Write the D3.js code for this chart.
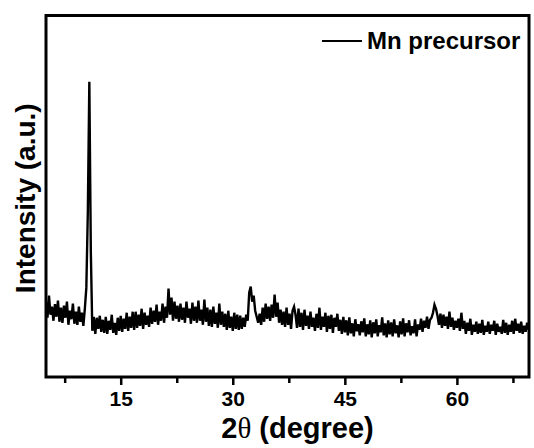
<!DOCTYPE html>
<html>
<head>
<meta charset="utf-8">
<script src="https://cdn.jsdelivr.net/npm/d3@7"></script>
<style>
  html, body { margin: 0; padding: 0; background: #fff; }
  svg { display: block; }
  text { font-family: Arial, "Liberation Sans", sans-serif; font-weight: bold; fill: #000; }
</style>
</head>
<body>
<svg id="chart" width="534" height="448"></svg>
<script>
// ---- data ----
const seriesName = "Mn precursor";
const twoTheta = [
  5.0,5.2,5.4,5.6,5.8,6.0,6.2,6.4,6.6,6.8,
  7.0,7.2,7.4,7.6,7.8,8.0,8.2,8.4,8.6,8.8,
  9.0,9.2,9.4,9.6,9.8,10.0,10.2,10.4,10.6,10.8,
  11.0,11.2,11.4,11.6,11.8,12.0,12.2,12.4,12.6,12.8,
  13.0,13.2,13.4,13.6,13.8,14.0,14.2,14.4,14.6,14.8,
  15.0,15.2,15.4,15.6,15.8,16.0,16.2,16.4,16.6,16.8,
  17.0,17.2,17.4,17.6,17.8,18.0,18.2,18.4,18.6,18.8,
  19.0,19.2,19.4,19.6,19.8,20.0,20.2,20.4,20.6,20.8,
  21.0,21.2,21.4,21.6,21.8,22.0,22.2,22.4,22.6,22.8,
  23.0,23.2,23.4,23.6,23.8,24.0,24.2,24.4,24.6,24.8,
  25.0,25.2,25.4,25.6,25.8,26.0,26.2,26.4,26.6,26.8,
  27.0,27.2,27.4,27.6,27.8,28.0,28.2,28.4,28.6,28.8,
  29.0,29.2,29.4,29.6,29.8,30.0,30.2,30.4,30.6,30.8,
  31.0,31.2,31.4,31.6,31.8,32.0,32.2,32.4,32.6,32.8,
  33.0,33.2,33.4,33.6,33.8,34.0,34.2,34.4,34.6,34.8,
  35.0,35.2,35.4,35.6,35.8,36.0,36.2,36.4,36.6,36.8,
  37.0,37.2,37.4,37.6,37.8,38.0,38.2,38.4,38.6,38.8,
  39.0,39.2,39.4,39.6,39.8,40.0,40.2,40.4,40.6,40.8,
  41.0,41.2,41.4,41.6,41.8,42.0,42.2,42.4,42.6,42.8,
  43.0,43.2,43.4,43.6,43.8,44.0,44.2,44.4,44.6,44.8,
  45.0,45.2,45.4,45.6,45.8,46.0,46.2,46.4,46.6,46.8,
  47.0,47.2,47.4,47.6,47.8,48.0,48.2,48.4,48.6,48.8,
  49.0,49.2,49.4,49.6,49.8,50.0,50.2,50.4,50.6,50.8,
  51.0,51.2,51.4,51.6,51.8,52.0,52.2,52.4,52.6,52.8,
  53.0,53.2,53.4,53.6,53.8,54.0,54.2,54.4,54.6,54.8,
  55.0,55.2,55.4,55.6,55.8,56.0,56.2,56.4,56.6,56.8,
  57.0,57.2,57.4,57.6,57.8,58.0,58.2,58.4,58.6,58.8,
  59.0,59.2,59.4,59.6,59.8,60.0,60.2,60.4,60.6,60.8,
  61.0,61.2,61.4,61.6,61.8,62.0,62.2,62.4,62.6,62.8,
  63.0,63.2,63.4,63.6,63.8,64.0,64.2,64.4,64.6,64.8,
  65.0,65.2,65.4,65.6,65.8,66.0,66.2,66.4,66.6,66.8,
  67.0,67.2,67.4,67.6,67.8,68.0,68.2,68.4,68.6,68.8,
  69.0,69.2,69.4,69.6
];
const intensity = [
  150,118,162,124,140,112,145,120,152,110,
  138,108,142,118,150,104,132,115,146,106,
  130,104,140,110,128,102,136,178,330,588,
  250,92,120,86,118,96,122,90,114,88,
  120,86,112,94,124,88,108,84,118,92,
  122,90,116,96,128,92,120,98,130,94,
  130,98,124,102,136,96,128,104,122,100,
  138,106,132,110,144,104,130,112,146,108,
  140,118,176,124,158,112,150,116,142,110,
  146,114,138,108,150,118,136,106,148,112,
  140,108,152,112,134,104,154,110,138,102,
  134,100,140,106,128,98,146,104,130,100,
  126,94,132,98,120,92,128,96,124,94,
  122,96,118,100,124,112,168,180,150,162,
  132,120,108,126,104,138,110,146,116,140,
  112,144,118,164,120,148,108,134,104,130,
  100,138,104,126,96,132,140,124,98,136,
  100,128,94,134,102,122,96,130,100,118,
  92,126,98,138,94,120,100,128,90,122,
  96,124,88,118,100,126,92,114,86,120,
  89,113,83,119,87,107,81,115,91,105,
  83,111,89,117,81,105,85,113,79,109,
  87,115,81,103,89,119,83,107,79,113,
  85,109,81,115,87,103,79,111,85,117,
  81,107,89,113,83,101,87,115,81,105,
  94,116,90,112,98,120,96,114,118,128,
  144,136,122,104,126,98,124,102,120,96,
  130,100,118,94,112,98,116,92,128,96,
  112,86,108,92,116,84,104,90,110,86,
  106,88,114,84,102,90,110,86,104,92,
  112,84,106,90,100,86,114,88,108,84,
  104,90,112,86,116,92,106,88,110,86,
  102,90,108,94
];
const majorTicks = [15, 30, 45, 60];
const minorTicks = [7.5, 22.5, 37.5, 52.5, 67.5];
const xDomain = [5, 69.65];
const yDomain = [0, 720];
const yTitle = "Intensity (a.u.)";

// ---- layout ----
const L = 46, R = 529, T = 15.5, B = 377;
const svg = d3.select("#chart");
const x = d3.scaleLinear().domain(xDomain).range([L, R]);
const y = d3.scaleLinear().domain(yDomain).range([B, T]);

const pts = twoTheta.map((t, i) => [t, intensity[i]]);

svg.append("clipPath").attr("id", "clip")
  .append("rect").attr("x", L).attr("y", T).attr("width", R - L).attr("height", B - T);

svg.append("path")
  .datum(pts)
  .attr("clip-path", "url(#clip)")
  .attr("fill", "none")
  .attr("stroke", "#000")
  .attr("stroke-width", 2.4)
  .attr("stroke-linejoin", "miter")
  .attr("d", d3.line().x(d => x(d[0])).y(d => y(d[1])));

// axes ticks
const gMajor = svg.append("g").attr("transform", `translate(0,${B})`)
  .call(d3.axisBottom(x).tickValues(majorTicks).tickSize(8).tickPadding(6).tickFormat(d3.format("d")));
gMajor.select(".domain").remove();
gMajor.selectAll(".tick line").attr("stroke", "#000").attr("stroke-width", 2.5);
gMajor.selectAll(".tick text").attr("font-size", 21).attr("font-weight", "bold")
  .attr("font-family", "Arial, 'Liberation Sans', sans-serif").attr("fill", "#000");

const gMinor = svg.append("g").attr("transform", `translate(0,${B})`)
  .call(d3.axisBottom(x).tickValues(minorTicks).tickSize(6).tickFormat(""));
gMinor.select(".domain").remove();
gMinor.selectAll(".tick line").attr("stroke", "#000").attr("stroke-width", 2.5);

const gLeft = svg.append("g").attr("transform", `translate(${L},0)`)
  .call(d3.axisLeft(y).tickValues([]).tickSizeOuter(0));
gLeft.select(".domain").remove();

// frame
svg.append("rect")
  .attr("x", L).attr("y", T).attr("width", R - L).attr("height", B - T)
  .attr("fill", "none").attr("stroke", "#000").attr("stroke-width", 3);

// titles
const xt = svg.append("text")
  .attr("x", (L + R) / 2 + 10).attr("y", 438)
  .attr("text-anchor", "middle").attr("font-size", 29);
xt.append("tspan").text("2");
xt.append("tspan").attr("font-family", "'Liberation Serif', 'DejaVu Serif', serif")
  .attr("font-weight", "normal").text("\u03B8");
xt.append("tspan").text(" (degree)");

svg.append("text")
  .attr("transform", `translate(35,${(T + B) / 2 + 2}) rotate(-90)`)
  .attr("text-anchor", "middle").attr("font-size", 28)
  .text(yTitle);

// legend
svg.append("line")
  .attr("x1", 322).attr("x2", 362).attr("y1", 41).attr("y2", 41)
  .attr("stroke", "#000").attr("stroke-width", 1.8);
svg.append("text")
  .attr("x", 367).attr("y", 49).attr("font-size", 24)
  .text(seriesName);
</script>
</body>
</html>
